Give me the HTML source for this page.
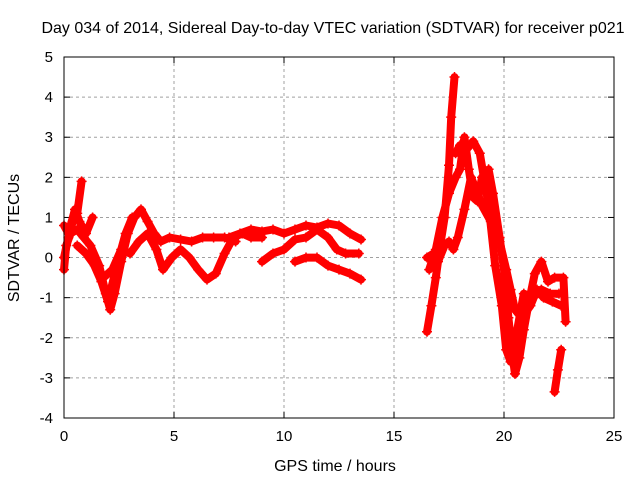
<!DOCTYPE html>
<html><head><meta charset="utf-8"><style>
body{margin:0;background:#fff;width:640px;height:480px;overflow:hidden}
text{font-family:"Liberation Sans",sans-serif;font-size:15px;fill:#000}
.big{font-size:16px}
</style></head><body>
<svg id="chart" width="640" height="480">
<text class="big" x="333" y="33" text-anchor="middle">Day 034 of 2014, Sidereal Day-to-day VTEC variation (SDTVAR) for receiver p021</text>
<text class="big" x="335" y="471" text-anchor="middle">GPS time / hours</text>
<text class="big" transform="translate(19,238) rotate(-90)" text-anchor="middle">SDTVAR / TECUs</text>
<g id="grid"></g><g id="ticks"></g><g id="series"></g>
<rect x="64" y="57" width="550" height="361" fill="none" stroke="#000" stroke-width="1"/>
</svg>
<script>
const xTicks=[0,5,10,15,20,25];
const yTicks=[-4,-3,-2,-1,0,1,2,3,4,5];
const L1=[[0,0],[0.2,0.5],[0.4,0.9],[0.6,1.1],[0.8,1.9]];
const L2=[[0,-0.3],[0.1,0.3],[0.3,0.6],[0.6,0.7],[0.9,0.5],[1.2,0.3],[1.6,-0.2],[1.9,-0.9],[2.1,-1.3],[2.3,-0.9],[2.6,-0.1],[2.9,0.6],[3.2,1.0],[3.5,1.2],[3.8,0.9],[4.1,0.6],[4.4,0.4],[4.8,0.5],[5.3,0.45],[5.8,0.4],[6.3,0.5],[6.8,0.5],[7.3,0.5],[7.8,0.4]];
const L3=[[0.6,0.3],[1.0,0.1],[1.4,-0.2],[1.8,-0.5],[2.2,-0.3],[2.6,0.2],[3.0,0.1],[3.4,0.4],[3.8,0.6],[4.2,0.2],[4.5,-0.3],[4.9,0.0],[5.3,0.2],[5.7,0],[6.1,-0.3],[6.5,-0.55],[6.9,-0.4],[7.3,0.1],[7.7,0.5],[8.1,0.6],[8.5,0.5],[9.0,0.5]];
const L4=[[1.3,-0.1],[1.7,-0.6],[2.0,-1.1],[2.4,-0.2],[2.8,0.6],[3.1,1.0]];
const L5=[[7.5,0.5],[8,0.6],[8.5,0.7],[9,0.65],[9.5,0.7],[10,0.6],[10.5,0.7],[11,0.8],[11.5,0.75],[12,0.85],[12.5,0.8],[13,0.6],[13.5,0.45]];
const L6=[[9.0,-0.1],[9.5,0.1],[10,0.2],[10.5,0.45],[11,0.5],[11.5,0.7],[12,0.5],[12.4,0.2],[12.8,0.1],[13.4,0.1]];
const L7=[[10.5,-0.1],[11,0.0],[11.5,0.0],[12,-0.2],[12.5,-0.3],[13,-0.4],[13.5,-0.55]];
const L8=[[0,0.8],[0.2,0.6],[0.5,1.2],[0.7,0.9],[1.0,0.6],[1.3,1.0]];
const R1=[[16.5,-1.85],[16.7,-1.2],[16.9,-0.5],[17.1,0.3],[17.3,1.0],[17.5,2.3],[17.6,3.5],[17.75,4.5]];
const R2=[[16.5,0],[16.8,0.1],[17.0,-0.1],[17.3,0.3],[17.5,0.4],[17.7,0.2],[17.9,0.5],[18.2,1.2],[18.5,2.0],[18.8,1.6],[19.0,1.3],[19.4,0.9],[19.8,0.4],[20.1,-0.3],[20.3,-0.8],[20.5,-1.3],[20.8,-1.5],[21.2,-1.2],[21.5,-0.8],[21.8,-1.0],[22.2,-1.1],[22.6,-1.2]];
const R3=[[16.6,-0.3],[16.9,0.2],[17.2,1.0],[17.5,1.6],[17.8,2.0],[18.0,2.2],[18.2,3.0],[18.4,2.2],[18.6,1.5],[18.8,1.4],[19.0,2.0],[19.3,2.2],[19.5,1.6],[19.8,0.5],[20.0,-0.3],[20.2,-1.5],[20.4,-2.5],[20.5,-2.9],[20.7,-2.5],[20.9,-1.8],[21.1,-1.2],[21.4,-0.4],[21.7,-0.1],[22.0,-0.6],[22.3,-0.5],[22.7,-0.5],[22.8,-1.6]];
const R4=[[17.8,2.6],[18.0,2.8],[18.3,2.7],[18.6,2.9],[18.9,2.6],[19.3,1.3],[19.6,-0.2],[19.9,-1.2],[20.1,-2.3],[20.3,-2.6],[20.6,-1.8],[20.9,-0.9],[21.3,-1.0],[21.7,-0.8],[22.1,-0.9],[22.5,-0.9]];
const R5=[[22.3,-3.35],[22.45,-2.8],[22.6,-2.3]];
const tracks=[L1,L2,L3,L4,L5,L6,L7,L8,R1,R2,R3,R4,R5];
const NS='http://www.w3.org/2000/svg';
const X0=64,X1=614,Y0=418,Y1=57;
function sx(t){return X0+(t-0)/(25-0)*(X1-X0);}
function sy(v){return Y0-(v-(-4))/(5-(-4))*(Y0-Y1);}
function mk(tag,attrs,parent){const e=document.createElementNS(NS,tag);for(const k in attrs)e.setAttribute(k,attrs[k]);parent.appendChild(e);return e;}
const grid=document.getElementById('grid'),ticks=document.getElementById('ticks'),ser=document.getElementById('series');
xTicks.forEach(t=>{const x=sx(t);
 if(t>0&&t<25){const g=mk('line',{x1:x,x2:x,y1:Y1,y2:Y0,stroke:'#a0a0a0','stroke-dasharray':'3,3'},grid);
 
 }
 mk('line',{x1:x,x2:x,y1:Y0,y2:Y0-6,stroke:'#000'},ticks);
 mk('line',{x1:x,x2:x,y1:Y1,y2:Y1+6,stroke:'#000'},ticks);
 const tx=mk('text',{x:x,y:Y0+23,'text-anchor':'middle'},ticks);tx.textContent=t;
 
 
});
yTicks.forEach(v=>{const y=sy(v);
 if(v>-4&&v<5){const g=mk('line',{x1:X0,x2:X1,y1:y,y2:y,stroke:'#a0a0a0','stroke-dasharray':'3,3'},grid);
 
 }
 mk('line',{x1:X0,x2:X0+6,y1:y,y2:y,stroke:'#000'},ticks);
 mk('line',{x1:X1,x2:X1-6,y1:y,y2:y,stroke:'#000'},ticks);
 const tx=mk('text',{x:53,y:y+5,'text-anchor':'end'},ticks);tx.textContent=v;
 
 
});
tracks.forEach((tr,i)=>{
 const d=tr.map((p,j)=>(j?'L':'M')+sx(p[0]).toFixed(1)+','+sy(p[1]).toFixed(1)).join('');
 const p=mk('path',{d:d,fill:'none',stroke:'#ff0000','stroke-width':8,'stroke-linejoin':'round','stroke-linecap':'round'},ser);
 
 
 tr.forEach(q=>{const x=sx(q[0]),y=sy(q[1]);
  const m=mk('path',{d:`M${x-5},${y}h10M${x},${y-5}v10`,stroke:'#ff0000','stroke-width':1.5},ser);
  
  
 });
});
</script>
</body></html>
